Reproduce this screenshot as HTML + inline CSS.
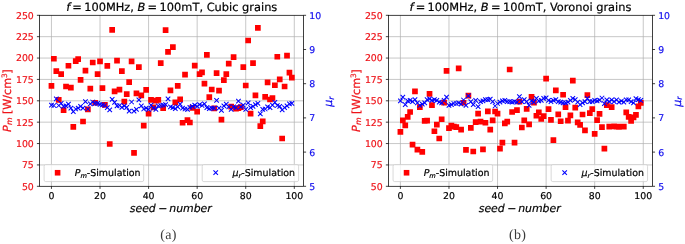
<!DOCTYPE html>
<html><head><meta charset="utf-8"><title>Pm and mu_r simulation</title>
<style>
html,body{margin:0;padding:0;background:#fff;}
svg{display:block;font-family:"DejaVu Sans", "Liberation Sans", sans-serif;text-rendering:geometricPrecision;}
text{stroke-width:0.2px;}
</style></head><body>
<svg width="685" height="244" viewBox="0 0 685 244">
<rect width="685" height="244" fill="#fff"/>
<g id="axA">
<path d="M51.45 15.3V186.3M100.02 15.3V186.3M148.59 15.3V186.3M197.16 15.3V186.3M245.73 15.3V186.3M294.3 15.3V186.3M39.5 164.93H303.5M39.5 143.55H303.5M39.5 122.17H303.5M39.5 100.8H303.5M39.5 79.42H303.5M39.5 58.05H303.5M39.5 36.67H303.5" stroke="#b0b0b0" stroke-width="0.7" fill="none"/>
<path d="M48.6 82.99h5.7v5.7h-5.7zM51.03 55.88h5.7v5.7h-5.7zM53.46 68.37h5.7v5.7h-5.7zM55.89 97.09h5.7v5.7h-5.7zM58.31 71.36h5.7v5.7h-5.7zM60.74 107.18h5.7v5.7h-5.7zM63.17 83.67h5.7v5.7h-5.7zM65.6 62.9h5.7v5.7h-5.7zM68.03 84.87h5.7v5.7h-5.7zM70.46 124.03h5.7v5.7h-5.7zM72.89 58.19h5.7v5.7h-5.7zM75.31 56.23h5.7v5.7h-5.7zM77.74 77.09h5.7v5.7h-5.7zM80.17 118.64h5.7v5.7h-5.7zM82.6 67.85h5.7v5.7h-5.7zM85.03 106.5h5.7v5.7h-5.7zM87.46 85.72h5.7v5.7h-5.7zM89.88 59.65h5.7v5.7h-5.7zM92.31 99.92h5.7v5.7h-5.7zM94.74 71.19h5.7v5.7h-5.7zM97.17 58.53h5.7v5.7h-5.7zM99.6 85.3h5.7v5.7h-5.7zM102.03 102.05h5.7v5.7h-5.7zM104.46 62.98h5.7v5.7h-5.7zM106.88 141.13h5.7v5.7h-5.7zM109.31 26.98h5.7v5.7h-5.7zM111.74 88.55h5.7v5.7h-5.7zM114.17 57.76h5.7v5.7h-5.7zM116.6 86.84h5.7v5.7h-5.7zM119.03 68.37h5.7v5.7h-5.7zM121.46 98.72h5.7v5.7h-5.7zM123.88 91.2h5.7v5.7h-5.7zM126.31 79.23h5.7v5.7h-5.7zM128.74 58.53h5.7v5.7h-5.7zM131.17 149.93h5.7v5.7h-5.7zM133.6 90.43h5.7v5.7h-5.7zM136.03 64.18h5.7v5.7h-5.7zM138.45 92.48h5.7v5.7h-5.7zM140.88 122.83h5.7v5.7h-5.7zM143.31 87.09h5.7v5.7h-5.7zM145.74 110.86h5.7v5.7h-5.7zM148.17 97.09h5.7v5.7h-5.7zM150.6 104.62h5.7v5.7h-5.7zM153.03 97.69h5.7v5.7h-5.7zM155.45 97.09h5.7v5.7h-5.7zM157.88 60.33h5.7v5.7h-5.7zM160.31 105.22h5.7v5.7h-5.7zM162.74 27.33h5.7v5.7h-5.7zM165.17 48.96h5.7v5.7h-5.7zM167.6 87.43h5.7v5.7h-5.7zM170.03 44.34h5.7v5.7h-5.7zM172.45 99.57h5.7v5.7h-5.7zM174.88 82.99h5.7v5.7h-5.7zM177.31 96.45h5.7v5.7h-5.7zM179.74 119.92h5.7v5.7h-5.7zM182.17 71.7h5.7v5.7h-5.7zM184.6 117.19h5.7v5.7h-5.7zM187.02 119.67h5.7v5.7h-5.7zM189.45 104.96h5.7v5.7h-5.7zM191.88 62.72h5.7v5.7h-5.7zM194.31 108.72h5.7v5.7h-5.7zM196.74 71.36h5.7v5.7h-5.7zM199.17 69.48h5.7v5.7h-5.7zM201.6 80.76h5.7v5.7h-5.7zM204.02 52.12h5.7v5.7h-5.7zM206.45 94.27h5.7v5.7h-5.7zM208.88 86.66h5.7v5.7h-5.7zM211.31 105.47h5.7v5.7h-5.7zM213.74 70.25h5.7v5.7h-5.7zM216.17 87.69h5.7v5.7h-5.7zM218.59 116.76h5.7v5.7h-5.7zM221.02 77.34h5.7v5.7h-5.7zM223.45 71.36h5.7v5.7h-5.7zM225.88 60.84h5.7v5.7h-5.7zM228.31 103.76h5.7v5.7h-5.7zM230.74 54.26h5.7v5.7h-5.7zM233.17 105.82h5.7v5.7h-5.7zM235.59 105.22h5.7v5.7h-5.7zM238.02 104.28h5.7v5.7h-5.7zM240.45 64.35h5.7v5.7h-5.7zM242.88 82.65h5.7v5.7h-5.7zM245.31 37.67h5.7v5.7h-5.7zM247.74 110.86h5.7v5.7h-5.7zM250.17 60.24h5.7v5.7h-5.7zM252.59 92.48h5.7v5.7h-5.7zM255.02 25.02h5.7v5.7h-5.7zM257.45 123.34h5.7v5.7h-5.7zM259.88 118.47h5.7v5.7h-5.7zM262.31 93.93h5.7v5.7h-5.7zM264.74 79.48h5.7v5.7h-5.7zM267.16 96.67h5.7v5.7h-5.7zM269.59 95.13h5.7v5.7h-5.7zM272.02 82.39h5.7v5.7h-5.7zM274.45 53.92h5.7v5.7h-5.7zM276.88 76.49h5.7v5.7h-5.7zM279.31 135.66h5.7v5.7h-5.7zM281.74 83.67h5.7v5.7h-5.7zM284.16 52.72h5.7v5.7h-5.7zM286.59 69.82h5.7v5.7h-5.7zM289.02 74.87h5.7v5.7h-5.7z" fill="#ff0000"/>
<path d="M49.2 102.85l4.5 4.5m0 -4.5l-4.5 4.5M51.63 103.25l4.5 4.5m0 -4.5l-4.5 4.5M54.06 96.65l4.5 4.5m0 -4.5l-4.5 4.5M56.49 103.25l4.5 4.5m0 -4.5l-4.5 4.5M58.91 101.05l4.5 4.5m0 -4.5l-4.5 4.5M61.34 104.15l4.5 4.5m0 -4.5l-4.5 4.5M63.77 103.65l4.5 4.5m0 -4.5l-4.5 4.5M66.2 101.95l4.5 4.5m0 -4.5l-4.5 4.5M68.63 105.85l4.5 4.5m0 -4.5l-4.5 4.5M71.06 109.35l4.5 4.5m0 -4.5l-4.5 4.5M73.48 106.75l4.5 4.5m0 -4.5l-4.5 4.5M75.91 105.85l4.5 4.5m0 -4.5l-4.5 4.5M78.34 104.15l4.5 4.5m0 -4.5l-4.5 4.5M80.77 105.85l4.5 4.5m0 -4.5l-4.5 4.5M83.2 99.35l4.5 4.5m0 -4.5l-4.5 4.5M85.63 106.75l4.5 4.5m0 -4.5l-4.5 4.5M88.06 101.55l4.5 4.5m0 -4.5l-4.5 4.5M90.48 99.75l4.5 4.5m0 -4.5l-4.5 4.5M92.91 101.05l4.5 4.5m0 -4.5l-4.5 4.5M95.34 101.05l4.5 4.5m0 -4.5l-4.5 4.5M97.77 102.15l4.5 4.5m0 -4.5l-4.5 4.5M100.2 102.55l4.5 4.5m0 -4.5l-4.5 4.5M102.63 103.25l4.5 4.5m0 -4.5l-4.5 4.5M105.06 105.45l4.5 4.5m0 -4.5l-4.5 4.5M107.48 107.65l4.5 4.5m0 -4.5l-4.5 4.5M109.91 97.15l4.5 4.5m0 -4.5l-4.5 4.5M112.34 100.15l4.5 4.5m0 -4.5l-4.5 4.5M114.77 103.65l4.5 4.5m0 -4.5l-4.5 4.5M117.2 103.25l4.5 4.5m0 -4.5l-4.5 4.5M119.63 105.05l4.5 4.5m0 -4.5l-4.5 4.5M122.06 103.65l4.5 4.5m0 -4.5l-4.5 4.5M124.48 105.05l4.5 4.5m0 -4.5l-4.5 4.5M126.91 108.95l4.5 4.5m0 -4.5l-4.5 4.5M129.34 99.75l4.5 4.5m0 -4.5l-4.5 4.5M131.77 108.95l4.5 4.5m0 -4.5l-4.5 4.5M134.2 107.15l4.5 4.5m0 -4.5l-4.5 4.5M136.63 97.55l4.5 4.5m0 -4.5l-4.5 4.5M139.05 103.65l4.5 4.5m0 -4.5l-4.5 4.5M141.48 106.75l4.5 4.5m0 -4.5l-4.5 4.5M143.91 105.85l4.5 4.5m0 -4.5l-4.5 4.5M146.34 107.15l4.5 4.5m0 -4.5l-4.5 4.5M148.77 102.85l4.5 4.5m0 -4.5l-4.5 4.5M151.2 105.85l4.5 4.5m0 -4.5l-4.5 4.5M153.63 107.15l4.5 4.5m0 -4.5l-4.5 4.5M156.05 103.65l4.5 4.5m0 -4.5l-4.5 4.5M158.48 103.25l4.5 4.5m0 -4.5l-4.5 4.5M160.91 102.85l4.5 4.5m0 -4.5l-4.5 4.5M163.34 102.35l4.5 4.5m0 -4.5l-4.5 4.5M165.77 96.65l4.5 4.5m0 -4.5l-4.5 4.5M168.2 104.55l4.5 4.5m0 -4.5l-4.5 4.5M170.62 105.45l4.5 4.5m0 -4.5l-4.5 4.5M173.05 106.35l4.5 4.5m0 -4.5l-4.5 4.5M175.48 104.55l4.5 4.5m0 -4.5l-4.5 4.5M177.91 101.95l4.5 4.5m0 -4.5l-4.5 4.5M180.34 105.85l4.5 4.5m0 -4.5l-4.5 4.5M182.77 106.75l4.5 4.5m0 -4.5l-4.5 4.5M185.2 107.15l4.5 4.5m0 -4.5l-4.5 4.5M187.62 105.05l4.5 4.5m0 -4.5l-4.5 4.5M190.05 104.15l4.5 4.5m0 -4.5l-4.5 4.5M192.48 102.85l4.5 4.5m0 -4.5l-4.5 4.5M194.91 104.15l4.5 4.5m0 -4.5l-4.5 4.5M197.34 102.35l4.5 4.5m0 -4.5l-4.5 4.5M199.77 103.25l4.5 4.5m0 -4.5l-4.5 4.5M202.2 101.55l4.5 4.5m0 -4.5l-4.5 4.5M204.62 105.45l4.5 4.5m0 -4.5l-4.5 4.5M207.05 106.35l4.5 4.5m0 -4.5l-4.5 4.5M209.48 105.85l4.5 4.5m0 -4.5l-4.5 4.5M211.91 105.85l4.5 4.5m0 -4.5l-4.5 4.5M214.34 98.2l4.5 4.5m0 -4.5l-4.5 4.5M216.77 105.85l4.5 4.5m0 -4.5l-4.5 4.5M219.19 108.05l4.5 4.5m0 -4.5l-4.5 4.5M221.62 103.65l4.5 4.5m0 -4.5l-4.5 4.5M224.05 101.95l4.5 4.5m0 -4.5l-4.5 4.5M226.48 104.55l4.5 4.5m0 -4.5l-4.5 4.5M228.91 107.15l4.5 4.5m0 -4.5l-4.5 4.5M231.34 104.55l4.5 4.5m0 -4.5l-4.5 4.5M233.77 105.45l4.5 4.5m0 -4.5l-4.5 4.5M236.19 98.85l4.5 4.5m0 -4.5l-4.5 4.5M238.62 104.55l4.5 4.5m0 -4.5l-4.5 4.5M241.05 102.85l4.5 4.5m0 -4.5l-4.5 4.5M243.48 107.15l4.5 4.5m0 -4.5l-4.5 4.5M245.91 100.65l4.5 4.5m0 -4.5l-4.5 4.5M248.34 105.45l4.5 4.5m0 -4.5l-4.5 4.5M250.77 104.15l4.5 4.5m0 -4.5l-4.5 4.5M253.19 102.35l4.5 4.5m0 -4.5l-4.5 4.5M255.62 101.05l4.5 4.5m0 -4.5l-4.5 4.5M258.05 111.65l4.5 4.5m0 -4.5l-4.5 4.5M260.48 107.15l4.5 4.5m0 -4.5l-4.5 4.5M262.91 106.75l4.5 4.5m0 -4.5l-4.5 4.5M265.34 104.55l4.5 4.5m0 -4.5l-4.5 4.5M267.76 105.45l4.5 4.5m0 -4.5l-4.5 4.5M270.19 102.85l4.5 4.5m0 -4.5l-4.5 4.5M272.62 100.15l4.5 4.5m0 -4.5l-4.5 4.5M275.05 103.25l4.5 4.5m0 -4.5l-4.5 4.5M277.48 104.15l4.5 4.5m0 -4.5l-4.5 4.5M279.91 107.65l4.5 4.5m0 -4.5l-4.5 4.5M282.34 105.45l4.5 4.5m0 -4.5l-4.5 4.5M284.76 103.65l4.5 4.5m0 -4.5l-4.5 4.5M287.19 101.55l4.5 4.5m0 -4.5l-4.5 4.5M289.62 101.05l4.5 4.5m0 -4.5l-4.5 4.5" stroke="#0000ff" stroke-width="1.05" fill="none"/>
<rect x="44.1" y="164.6" width="99.6" height="17" rx="1.6" fill="#fff" fill-opacity="0.8" stroke="#ccc" stroke-width="0.75"/>
<rect x="54.8" y="169.95" width="5.6" height="5.6" fill="#ff0000"/>
<text x="74.7" y="176.4" font-size="9.45" fill="#000" stroke="#000"><tspan font-style="italic">P</tspan><tspan font-style="italic" font-size="6.61" dy="1.5">m</tspan><tspan dy="-1.5">-Simulation</tspan></text>
<rect x="202.2" y="164.6" width="96.4" height="17" rx="1.6" fill="#fff" fill-opacity="0.8" stroke="#ccc" stroke-width="0.75"/>
<path d="M213.45 170.45l4.5 4.5m0 -4.5l-4.5 4.5" stroke="#0000ff" stroke-width="1.05" fill="none"/>
<text x="232.6" y="176.4" font-size="9.45" fill="#000" stroke="#000"><tspan font-style="italic">μ</tspan><tspan font-style="italic" font-size="6.61" dy="1.5">r</tspan><tspan dy="-1.5">-Simulation</tspan></text>
<rect x="39.5" y="15.3" width="264" height="171" fill="none" stroke="#000" stroke-width="0.75"/>
<path d="M51.45 186.3v2.6M100.02 186.3v2.6M148.59 186.3v2.6M197.16 186.3v2.6M245.73 186.3v2.6M294.3 186.3v2.6M39.5 186.3h-2.6M39.5 164.93h-2.6M39.5 143.55h-2.6M39.5 122.17h-2.6M39.5 100.8h-2.6M39.5 79.42h-2.6M39.5 58.05h-2.6M39.5 36.67h-2.6M39.5 15.3h-2.6M303.5 186.3h2.6M303.5 152.1h2.6M303.5 117.9h2.6M303.5 83.7h2.6M303.5 49.5h2.6M303.5 15.3h2.6" stroke="#000" stroke-width="0.75" fill="none"/>
<text x="51.45" y="198.9" font-size="9.35" text-anchor="middle" fill="#000" stroke="#000">0</text>
<text x="100.02" y="198.9" font-size="9.35" text-anchor="middle" fill="#000" stroke="#000">20</text>
<text x="148.59" y="198.9" font-size="9.35" text-anchor="middle" fill="#000" stroke="#000">40</text>
<text x="197.16" y="198.9" font-size="9.35" text-anchor="middle" fill="#000" stroke="#000">60</text>
<text x="245.73" y="198.9" font-size="9.35" text-anchor="middle" fill="#000" stroke="#000">80</text>
<text x="294.3" y="198.9" font-size="9.35" text-anchor="middle" fill="#000" stroke="#000">100</text>
<text x="33.8" y="189.7" font-size="9.35" text-anchor="end" fill="#ee141a" stroke="#ee141a">50</text>
<text x="33.8" y="168.33" font-size="9.35" text-anchor="end" fill="#ee141a" stroke="#ee141a">75</text>
<text x="33.8" y="146.95" font-size="9.35" text-anchor="end" fill="#ee141a" stroke="#ee141a">100</text>
<text x="33.8" y="125.58" font-size="9.35" text-anchor="end" fill="#ee141a" stroke="#ee141a">125</text>
<text x="33.8" y="104.2" font-size="9.35" text-anchor="end" fill="#ee141a" stroke="#ee141a">150</text>
<text x="33.8" y="82.83" font-size="9.35" text-anchor="end" fill="#ee141a" stroke="#ee141a">175</text>
<text x="33.8" y="61.45" font-size="9.35" text-anchor="end" fill="#ee141a" stroke="#ee141a">200</text>
<text x="33.8" y="40.07" font-size="9.35" text-anchor="end" fill="#ee141a" stroke="#ee141a">225</text>
<text x="33.8" y="18.7" font-size="9.35" text-anchor="end" fill="#ee141a" stroke="#ee141a">250</text>
<text x="309.2" y="189.7" font-size="9.35" text-anchor="start" fill="#1410ee" stroke="#1410ee">5</text>
<text x="309.2" y="155.5" font-size="9.35" text-anchor="start" fill="#1410ee" stroke="#1410ee">6</text>
<text x="309.2" y="121.3" font-size="9.35" text-anchor="start" fill="#1410ee" stroke="#1410ee">7</text>
<text x="309.2" y="87.1" font-size="9.35" text-anchor="start" fill="#1410ee" stroke="#1410ee">8</text>
<text x="309.2" y="52.9" font-size="9.35" text-anchor="start" fill="#1410ee" stroke="#1410ee">9</text>
<text x="309.2" y="18.7" font-size="9.35" text-anchor="start" fill="#1410ee" stroke="#1410ee">10</text>
<text y="10.6" font-size="11.4" fill="#000" stroke="#000"><tspan x="66.25" font-style="italic">f</tspan><tspan x="72.35">=</tspan><tspan x="84.15">100MHz, </tspan><tspan x="137.5" font-style="italic">B</tspan><tspan x="147.6">=</tspan><tspan x="159.6">100mT, Cubic grains</tspan></text>
<text y="212.4" font-size="10.9" font-style="italic" fill="#000" stroke="#000"><tspan x="129.8">seed</tspan><tspan x="158.2">−</tspan><tspan x="169.25">number</tspan></text>
<text transform="translate(10.8 0) rotate(-90)" font-size="11.2" fill="#ee141a" stroke="#ee141a"><tspan x="-132" y="0" font-style="italic">P</tspan><tspan x="-125.1" y="1.4" font-style="italic" font-size="7.84">m</tspan><tspan x="-114.1" y="0">[W/cm</tspan><tspan x="-78.1" y="-3.6" font-size="7.4">3</tspan><tspan x="-73.65" y="0">]</tspan></text>
<text transform="translate(332.1 101.6) rotate(-90)" font-size="11.2" text-anchor="middle" fill="#1410ee" stroke="#1410ee"><tspan font-style="italic">μ</tspan><tspan font-style="italic" font-size="7.84" dy="1.4">r</tspan></text>
<text x="168.4" y="239.2" font-size="14" letter-spacing="0.25" text-anchor="middle" fill="#3a3a3a" stroke="none" font-family='"Liberation Serif", serif'>(a)</text>
</g>
<g id="axB">
<path d="M400.4 15.3V186.3M448.97 15.3V186.3M497.54 15.3V186.3M546.11 15.3V186.3M594.68 15.3V186.3M643.25 15.3V186.3M388.45 164.93H652.45M388.45 143.55H652.45M388.45 122.17H652.45M388.45 100.8H652.45M388.45 79.42H652.45M388.45 58.05H652.45M388.45 36.67H652.45" stroke="#b0b0b0" stroke-width="0.7" fill="none"/>
<path d="M397.55 128.99h5.7v5.7h-5.7zM399.98 117.44h5.7v5.7h-5.7zM402.41 122.49h5.7v5.7h-5.7zM404.84 114.11h5.7v5.7h-5.7zM407.26 109.15h5.7v5.7h-5.7zM409.69 141.73h5.7v5.7h-5.7zM412.12 88.46h5.7v5.7h-5.7zM414.55 146.77h5.7v5.7h-5.7zM416.98 104.36h5.7v5.7h-5.7zM419.41 148.95h5.7v5.7h-5.7zM421.83 118.04h5.7v5.7h-5.7zM424.26 117.7h5.7v5.7h-5.7zM426.69 90.94h5.7v5.7h-5.7zM429.12 102.23h5.7v5.7h-5.7zM431.55 128.39h5.7v5.7h-5.7zM433.98 121.72h5.7v5.7h-5.7zM436.41 135.66h5.7v5.7h-5.7zM438.83 116.42h5.7v5.7h-5.7zM441.26 99.75h5.7v5.7h-5.7zM443.69 68.11h5.7v5.7h-5.7zM446.12 125.22h5.7v5.7h-5.7zM448.55 122.75h5.7v5.7h-5.7zM450.98 123.77h5.7v5.7h-5.7zM453.41 124.28h5.7v5.7h-5.7zM455.83 65.46h5.7v5.7h-5.7zM458.26 126.76h5.7v5.7h-5.7zM460.69 99.92h5.7v5.7h-5.7zM463.12 146.94h5.7v5.7h-5.7zM465.55 92.73h5.7v5.7h-5.7zM467.98 124.97h5.7v5.7h-5.7zM470.4 148.65h5.7v5.7h-5.7zM472.83 119.24h5.7v5.7h-5.7zM475.26 110.78h5.7v5.7h-5.7zM477.69 118.73h5.7v5.7h-5.7zM480.12 146.43h5.7v5.7h-5.7zM482.55 119.92h5.7v5.7h-5.7zM484.98 108.55h5.7v5.7h-5.7zM487.4 126.76h5.7v5.7h-5.7zM489.83 117.44h5.7v5.7h-5.7zM492.26 108.64h5.7v5.7h-5.7zM494.69 110.78h5.7v5.7h-5.7zM497.12 145.83h5.7v5.7h-5.7zM499.55 139.84h5.7v5.7h-5.7zM501.98 120.44h5.7v5.7h-5.7zM504.4 118.73h5.7v5.7h-5.7zM506.83 66.66h5.7v5.7h-5.7zM509.26 109.15h5.7v5.7h-5.7zM511.69 139.84h5.7v5.7h-5.7zM514.12 107.27h5.7v5.7h-5.7zM516.55 98.72h5.7v5.7h-5.7zM518.98 124.63h5.7v5.7h-5.7zM521.4 117.44h5.7v5.7h-5.7zM523.83 106.07h5.7v5.7h-5.7zM526.26 121.46h5.7v5.7h-5.7zM528.69 94.02h5.7v5.7h-5.7zM531.12 99.75h5.7v5.7h-5.7zM533.55 112.91h5.7v5.7h-5.7zM535.97 109.58h5.7v5.7h-5.7zM538.4 116.16h5.7v5.7h-5.7zM540.83 113.34h5.7v5.7h-5.7zM543.26 75.72h5.7v5.7h-5.7zM545.69 106.24h5.7v5.7h-5.7zM548.12 117.02h5.7v5.7h-5.7zM550.55 137.37h5.7v5.7h-5.7zM552.97 87.43h5.7v5.7h-5.7zM555.4 111.46h5.7v5.7h-5.7zM557.83 118.38h5.7v5.7h-5.7zM560.26 91.88h5.7v5.7h-5.7zM562.69 104.36h5.7v5.7h-5.7zM565.12 117.7h5.7v5.7h-5.7zM567.54 112.48h5.7v5.7h-5.7zM569.97 77.77h5.7v5.7h-5.7zM572.4 104.79h5.7v5.7h-5.7zM574.83 119.58h5.7v5.7h-5.7zM577.26 122.06h5.7v5.7h-5.7zM579.69 111.63h5.7v5.7h-5.7zM582.12 127.53h5.7v5.7h-5.7zM584.54 92.22h5.7v5.7h-5.7zM586.97 110.18h5.7v5.7h-5.7zM589.4 106.24h5.7v5.7h-5.7zM591.83 131.12h5.7v5.7h-5.7zM594.26 117.36h5.7v5.7h-5.7zM596.69 111.12h5.7v5.7h-5.7zM599.12 124.37h5.7v5.7h-5.7zM601.54 145.83h5.7v5.7h-5.7zM603.97 102.23h5.7v5.7h-5.7zM606.4 123.77h5.7v5.7h-5.7zM608.83 104.36h5.7v5.7h-5.7zM611.26 123.6h5.7v5.7h-5.7zM613.69 123.77h5.7v5.7h-5.7zM616.11 123.94h5.7v5.7h-5.7zM618.54 123.77h5.7v5.7h-5.7zM620.97 123.77h5.7v5.7h-5.7zM623.4 109.58h5.7v5.7h-5.7zM625.83 113.94h5.7v5.7h-5.7zM628.26 118.04h5.7v5.7h-5.7zM630.69 114.54h5.7v5.7h-5.7zM633.11 112.06h5.7v5.7h-5.7zM635.54 103.59h5.7v5.7h-5.7zM637.97 100.09h5.7v5.7h-5.7z" fill="#ff0000"/>
<path d="M398.15 98.65l4.5 4.5m0 -4.5l-4.5 4.5M400.58 94.95l4.5 4.5m0 -4.5l-4.5 4.5M403.01 102.45l4.5 4.5m0 -4.5l-4.5 4.5M405.44 98.65l4.5 4.5m0 -4.5l-4.5 4.5M407.86 98.05l4.5 4.5m0 -4.5l-4.5 4.5M410.29 99.35l4.5 4.5m0 -4.5l-4.5 4.5M412.72 97.45l4.5 4.5m0 -4.5l-4.5 4.5M415.15 100.55l4.5 4.5m0 -4.5l-4.5 4.5M417.58 103.05l4.5 4.5m0 -4.5l-4.5 4.5M420.01 101.85l4.5 4.5m0 -4.5l-4.5 4.5M422.44 100.55l4.5 4.5m0 -4.5l-4.5 4.5M424.86 97.45l4.5 4.5m0 -4.5l-4.5 4.5M427.29 96.55l4.5 4.5m0 -4.5l-4.5 4.5M429.72 98.05l4.5 4.5m0 -4.5l-4.5 4.5M432.15 97.45l4.5 4.5m0 -4.5l-4.5 4.5M434.58 98.05l4.5 4.5m0 -4.5l-4.5 4.5M437.01 99.95l4.5 4.5m0 -4.5l-4.5 4.5M439.43 100.55l4.5 4.5m0 -4.5l-4.5 4.5M441.86 98.05l4.5 4.5m0 -4.5l-4.5 4.5M444.29 94.95l4.5 4.5m0 -4.5l-4.5 4.5M446.72 103.05l4.5 4.5m0 -4.5l-4.5 4.5M449.15 102.35l4.5 4.5m0 -4.5l-4.5 4.5M451.58 101.25l4.5 4.5m0 -4.5l-4.5 4.5M454.01 101.25l4.5 4.5m0 -4.5l-4.5 4.5M456.43 100.55l4.5 4.5m0 -4.5l-4.5 4.5M458.86 101.85l4.5 4.5m0 -4.5l-4.5 4.5M461.29 97.75l4.5 4.5m0 -4.5l-4.5 4.5M463.72 103.05l4.5 4.5m0 -4.5l-4.5 4.5M466.15 93.65l4.5 4.5m0 -4.5l-4.5 4.5M468.58 99.35l4.5 4.5m0 -4.5l-4.5 4.5M471 102.45l4.5 4.5m0 -4.5l-4.5 4.5M473.43 98.05l4.5 4.5m0 -4.5l-4.5 4.5M475.86 104.35l4.5 4.5m0 -4.5l-4.5 4.5M478.29 99.35l4.5 4.5m0 -4.5l-4.5 4.5M480.72 98.65l4.5 4.5m0 -4.5l-4.5 4.5M483.15 97.45l4.5 4.5m0 -4.5l-4.5 4.5M485.58 97.45l4.5 4.5m0 -4.5l-4.5 4.5M488 96.85l4.5 4.5m0 -4.5l-4.5 4.5M490.43 99.35l4.5 4.5m0 -4.5l-4.5 4.5M492.86 103.75l4.5 4.5m0 -4.5l-4.5 4.5M495.29 101.25l4.5 4.5m0 -4.5l-4.5 4.5M497.72 99.95l4.5 4.5m0 -4.5l-4.5 4.5M500.15 98.65l4.5 4.5m0 -4.5l-4.5 4.5M502.58 98.05l4.5 4.5m0 -4.5l-4.5 4.5M505 99.35l4.5 4.5m0 -4.5l-4.5 4.5M507.43 99.35l4.5 4.5m0 -4.5l-4.5 4.5M509.86 99.95l4.5 4.5m0 -4.5l-4.5 4.5M512.29 99.35l4.5 4.5m0 -4.5l-4.5 4.5M514.72 99.95l4.5 4.5m0 -4.5l-4.5 4.5M517.15 94.35l4.5 4.5m0 -4.5l-4.5 4.5M519.58 99.35l4.5 4.5m0 -4.5l-4.5 4.5M522 97.45l4.5 4.5m0 -4.5l-4.5 4.5M524.43 99.35l4.5 4.5m0 -4.5l-4.5 4.5M526.86 103.05l4.5 4.5m0 -4.5l-4.5 4.5M529.29 98.65l4.5 4.5m0 -4.5l-4.5 4.5M531.72 99.95l4.5 4.5m0 -4.5l-4.5 4.5M534.15 96.15l4.5 4.5m0 -4.5l-4.5 4.5M536.57 98.65l4.5 4.5m0 -4.5l-4.5 4.5M539 98.05l4.5 4.5m0 -4.5l-4.5 4.5M541.43 96.15l4.5 4.5m0 -4.5l-4.5 4.5M543.86 95.55l4.5 4.5m0 -4.5l-4.5 4.5M546.29 98.05l4.5 4.5m0 -4.5l-4.5 4.5M548.72 99.35l4.5 4.5m0 -4.5l-4.5 4.5M551.15 98.05l4.5 4.5m0 -4.5l-4.5 4.5M553.57 97.45l4.5 4.5m0 -4.5l-4.5 4.5M556 99.35l4.5 4.5m0 -4.5l-4.5 4.5M558.43 99.95l4.5 4.5m0 -4.5l-4.5 4.5M560.86 100.55l4.5 4.5m0 -4.5l-4.5 4.5M563.29 100.55l4.5 4.5m0 -4.5l-4.5 4.5M565.72 99.95l4.5 4.5m0 -4.5l-4.5 4.5M568.14 98.05l4.5 4.5m0 -4.5l-4.5 4.5M570.57 96.15l4.5 4.5m0 -4.5l-4.5 4.5M573 97.45l4.5 4.5m0 -4.5l-4.5 4.5M575.43 99.95l4.5 4.5m0 -4.5l-4.5 4.5M577.86 102.45l4.5 4.5m0 -4.5l-4.5 4.5M580.29 100.55l4.5 4.5m0 -4.5l-4.5 4.5M582.72 99.35l4.5 4.5m0 -4.5l-4.5 4.5M585.14 96.15l4.5 4.5m0 -4.5l-4.5 4.5M587.57 99.35l4.5 4.5m0 -4.5l-4.5 4.5M590 99.35l4.5 4.5m0 -4.5l-4.5 4.5M592.43 98.05l4.5 4.5m0 -4.5l-4.5 4.5M594.86 98.65l4.5 4.5m0 -4.5l-4.5 4.5M597.29 97.85l4.5 4.5m0 -4.5l-4.5 4.5M599.72 95.75l4.5 4.5m0 -4.5l-4.5 4.5M602.14 101.35l4.5 4.5m0 -4.5l-4.5 4.5M604.57 97.6l4.5 4.5m0 -4.5l-4.5 4.5M607 99.35l4.5 4.5m0 -4.5l-4.5 4.5M609.43 97.6l4.5 4.5m0 -4.5l-4.5 4.5M611.86 99.35l4.5 4.5m0 -4.5l-4.5 4.5M614.29 97.6l4.5 4.5m0 -4.5l-4.5 4.5M616.71 99.95l4.5 4.5m0 -4.5l-4.5 4.5M619.14 98.75l4.5 4.5m0 -4.5l-4.5 4.5M621.57 99.95l4.5 4.5m0 -4.5l-4.5 4.5M624 97.6l4.5 4.5m0 -4.5l-4.5 4.5M626.43 97.6l4.5 4.5m0 -4.5l-4.5 4.5M628.86 99.35l4.5 4.5m0 -4.5l-4.5 4.5M631.29 100.55l4.5 4.5m0 -4.5l-4.5 4.5M633.71 96.45l4.5 4.5m0 -4.5l-4.5 4.5M636.14 97.45l4.5 4.5m0 -4.5l-4.5 4.5M638.57 98.05l4.5 4.5m0 -4.5l-4.5 4.5" stroke="#0000ff" stroke-width="1.05" fill="none"/>
<rect x="393.05" y="164.6" width="99.6" height="17" rx="1.6" fill="#fff" fill-opacity="0.8" stroke="#ccc" stroke-width="0.75"/>
<rect x="403.75" y="169.95" width="5.6" height="5.6" fill="#ff0000"/>
<text x="423.65" y="176.4" font-size="9.45" fill="#000" stroke="#000"><tspan font-style="italic">P</tspan><tspan font-style="italic" font-size="6.61" dy="1.5">m</tspan><tspan dy="-1.5">-Simulation</tspan></text>
<rect x="551.15" y="164.6" width="96.4" height="17" rx="1.6" fill="#fff" fill-opacity="0.8" stroke="#ccc" stroke-width="0.75"/>
<path d="M562.4 170.45l4.5 4.5m0 -4.5l-4.5 4.5" stroke="#0000ff" stroke-width="1.05" fill="none"/>
<text x="581.55" y="176.4" font-size="9.45" fill="#000" stroke="#000"><tspan font-style="italic">μ</tspan><tspan font-style="italic" font-size="6.61" dy="1.5">r</tspan><tspan dy="-1.5">-Simulation</tspan></text>
<rect x="388.45" y="15.3" width="264" height="171" fill="none" stroke="#000" stroke-width="0.75"/>
<path d="M400.4 186.3v2.6M448.97 186.3v2.6M497.54 186.3v2.6M546.11 186.3v2.6M594.68 186.3v2.6M643.25 186.3v2.6M388.45 186.3h-2.6M388.45 164.93h-2.6M388.45 143.55h-2.6M388.45 122.17h-2.6M388.45 100.8h-2.6M388.45 79.42h-2.6M388.45 58.05h-2.6M388.45 36.67h-2.6M388.45 15.3h-2.6M652.45 186.3h2.6M652.45 152.1h2.6M652.45 117.9h2.6M652.45 83.7h2.6M652.45 49.5h2.6M652.45 15.3h2.6" stroke="#000" stroke-width="0.75" fill="none"/>
<text x="400.4" y="198.9" font-size="9.35" text-anchor="middle" fill="#000" stroke="#000">0</text>
<text x="448.97" y="198.9" font-size="9.35" text-anchor="middle" fill="#000" stroke="#000">20</text>
<text x="497.54" y="198.9" font-size="9.35" text-anchor="middle" fill="#000" stroke="#000">40</text>
<text x="546.11" y="198.9" font-size="9.35" text-anchor="middle" fill="#000" stroke="#000">60</text>
<text x="594.68" y="198.9" font-size="9.35" text-anchor="middle" fill="#000" stroke="#000">80</text>
<text x="643.25" y="198.9" font-size="9.35" text-anchor="middle" fill="#000" stroke="#000">100</text>
<text x="382.75" y="189.7" font-size="9.35" text-anchor="end" fill="#ee141a" stroke="#ee141a">50</text>
<text x="382.75" y="168.33" font-size="9.35" text-anchor="end" fill="#ee141a" stroke="#ee141a">75</text>
<text x="382.75" y="146.95" font-size="9.35" text-anchor="end" fill="#ee141a" stroke="#ee141a">100</text>
<text x="382.75" y="125.58" font-size="9.35" text-anchor="end" fill="#ee141a" stroke="#ee141a">125</text>
<text x="382.75" y="104.2" font-size="9.35" text-anchor="end" fill="#ee141a" stroke="#ee141a">150</text>
<text x="382.75" y="82.83" font-size="9.35" text-anchor="end" fill="#ee141a" stroke="#ee141a">175</text>
<text x="382.75" y="61.45" font-size="9.35" text-anchor="end" fill="#ee141a" stroke="#ee141a">200</text>
<text x="382.75" y="40.07" font-size="9.35" text-anchor="end" fill="#ee141a" stroke="#ee141a">225</text>
<text x="382.75" y="18.7" font-size="9.35" text-anchor="end" fill="#ee141a" stroke="#ee141a">250</text>
<text x="658.15" y="189.7" font-size="9.35" text-anchor="start" fill="#1410ee" stroke="#1410ee">5</text>
<text x="658.15" y="155.5" font-size="9.35" text-anchor="start" fill="#1410ee" stroke="#1410ee">6</text>
<text x="658.15" y="121.3" font-size="9.35" text-anchor="start" fill="#1410ee" stroke="#1410ee">7</text>
<text x="658.15" y="87.1" font-size="9.35" text-anchor="start" fill="#1410ee" stroke="#1410ee">8</text>
<text x="658.15" y="52.9" font-size="9.35" text-anchor="start" fill="#1410ee" stroke="#1410ee">9</text>
<text x="658.15" y="18.7" font-size="9.35" text-anchor="start" fill="#1410ee" stroke="#1410ee">10</text>
<text y="10.6" font-size="11.4" fill="#000" stroke="#000"><tspan x="409.55" font-style="italic">f</tspan><tspan x="415.65">=</tspan><tspan x="427.45">100MHz, </tspan><tspan x="480.8" font-style="italic">B</tspan><tspan x="490.9">=</tspan><tspan x="502.9">100mT, Voronoi grains</tspan></text>
<text y="212.4" font-size="10.9" font-style="italic" fill="#000" stroke="#000"><tspan x="478.75">seed</tspan><tspan x="507.15">−</tspan><tspan x="518.2">number</tspan></text>
<text transform="translate(359.75 0) rotate(-90)" font-size="11.2" fill="#ee141a" stroke="#ee141a"><tspan x="-132" y="0" font-style="italic">P</tspan><tspan x="-125.1" y="1.4" font-style="italic" font-size="7.84">m</tspan><tspan x="-114.1" y="0">[W/cm</tspan><tspan x="-78.1" y="-3.6" font-size="7.4">3</tspan><tspan x="-73.65" y="0">]</tspan></text>
<text transform="translate(681.05 101.6) rotate(-90)" font-size="11.2" text-anchor="middle" fill="#1410ee" stroke="#1410ee"><tspan font-style="italic">μ</tspan><tspan font-style="italic" font-size="7.84" dy="1.4">r</tspan></text>
<text x="517.6" y="239.2" font-size="14" letter-spacing="0.25" text-anchor="middle" fill="#3a3a3a" stroke="none" font-family='"Liberation Serif", serif'>(b)</text>
</g>
</svg>
</body></html>
